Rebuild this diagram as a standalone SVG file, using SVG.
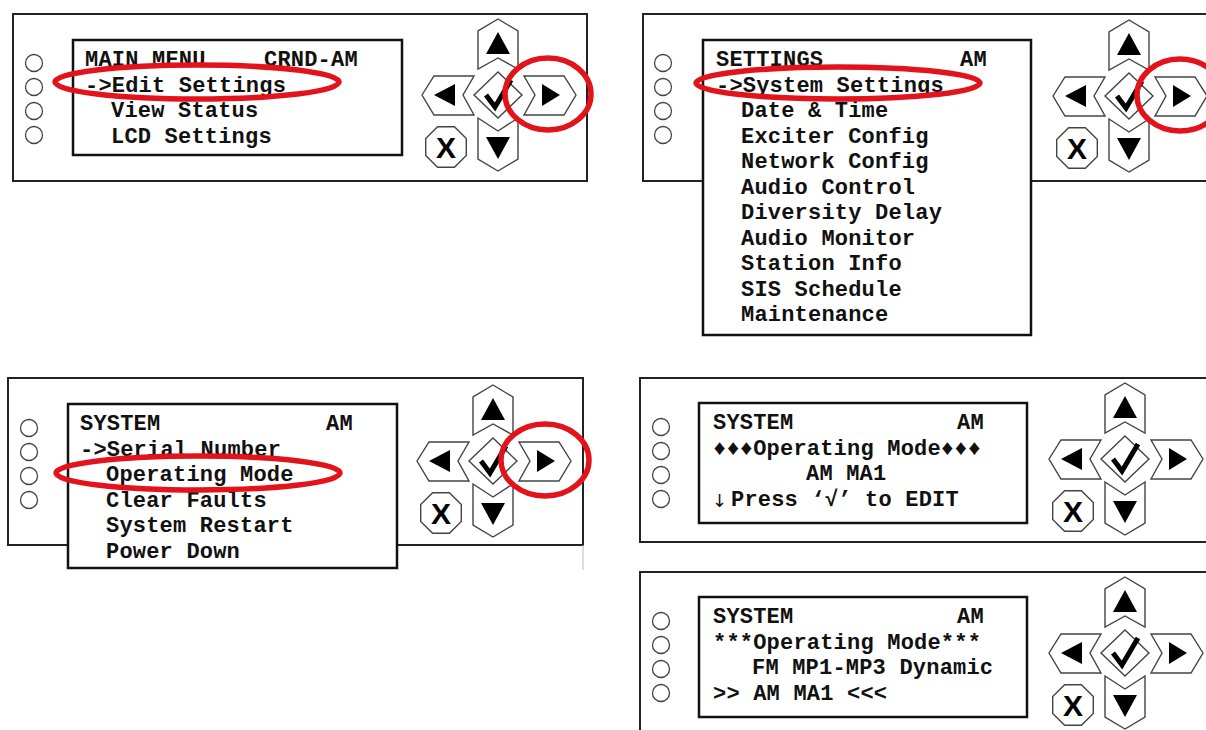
<svg xmlns="http://www.w3.org/2000/svg" width="1206" height="730" viewBox="0 0 1206 730">
<style>
.panel{fill:#fff;stroke:#222;stroke-width:2}
.screen{fill:#fff;stroke:#111;stroke-width:2.5}
.led{fill:#fff;stroke:#444;stroke-width:1.3}
.btn{fill:#fff;stroke:#444;stroke-width:1.4;stroke-linejoin:miter}
.tri{fill:#000}
.lcd{font-family:"Courier New","Liberation Mono","DejaVu Sans Mono",monospace;font-weight:bold;font-size:22px;fill:#111;letter-spacing:0.2px}
.hl{fill:none;stroke:#e3131b;stroke-width:5.5}
.xk{font-family:"Liberation Sans","DejaVu Sans",sans-serif;font-weight:bold;font-size:30px;fill:#000}
</style>
<defs>
<g id="keypad">
<polygon class="btn" points="0,-76 20,-64 20,-26 0,-37 -20,-26 -20,-64"/>
<polygon class="tri" points="0,-63 12,-41 -12,-41"/>
<polygon class="btn" points="-20,23 0,36 20,23 20,64 0,76 -20,64"/>
<polygon class="tri" points="-12,42 12,42 0,64"/>
<polygon class="btn" points="-76,0 -64,-19 -24,-19 -35,0 -24,20 -64,20"/>
<polygon class="tri" points="-64,0 -43,-11 -43,11"/>
<polygon class="btn" points="78,0 66,-19 26,-19 37,0 26,20 66,20"/>
<polygon class="tri" points="62,0 44,-11 44,11"/>
<polygon class="btn" points="0,-23 24,0 0,23 -24,0"/>
<path d="M-12,0 L-3,12 L13,-15" fill="none" stroke="#000" stroke-width="5"/>
<polygon class="btn" points="-60.4,31.7 -43.6,31.7 -31.7,43.6 -31.7,60.4 -43.6,72.3 -60.4,72.3 -72.3,60.4 -72.3,43.6"/>
<text class="xk" x="-52" y="62.5" text-anchor="middle">X</text>
</g>
<g id="leds">
<circle class="led" cx="0" cy="0" r="8.5"/>
<circle class="led" cx="0" cy="24" r="8.5"/>
<circle class="led" cx="0" cy="48" r="8.5"/>
<circle class="led" cx="0" cy="72" r="8.5"/>
</g>
</defs>
<rect width="1206" height="730" fill="#fff"/>

<g id="panel-main-menu">
<rect class="panel" x="13" y="14" width="574" height="167"/>
<use href="#leds" x="34" y="63"/>
<rect class="screen" x="73" y="40" width="329" height="115"/>
<text class="lcd" x="85" y="66">MAIN MENU</text>
<text class="lcd" x="264" y="66">CRND-AM</text>
<text class="lcd" x="85" y="92">-&gt;Edit Settings</text>
<text class="lcd" x="111" y="117">View Status</text>
<text class="lcd" x="111" y="143">LCD Settings</text>
<use href="#keypad" x="498" y="95"/>
<ellipse class="hl" cx="197" cy="82" rx="142" ry="17"/>
<ellipse class="hl" cx="548" cy="94" rx="43" ry="36"/>
</g>

<g id="panel-settings">
<rect class="panel" x="643" y="14" width="600" height="167"/>
<use href="#leds" x="663" y="63"/>
<rect class="screen" x="703" y="40" width="328" height="295"/>
<text class="lcd" x="716" y="66">SETTINGS</text>
<text class="lcd" x="960" y="66">AM</text>
<text class="lcd" x="716" y="92">-&gt;System Settings</text>
<text class="lcd" x="741" y="117">Date &amp; Time</text>
<text class="lcd" x="741" y="143">Exciter Config</text>
<text class="lcd" x="741" y="168">Network Config</text>
<text class="lcd" x="741" y="194">Audio Control</text>
<text class="lcd" x="741" y="219">Diversity Delay</text>
<text class="lcd" x="741" y="245">Audio Monitor</text>
<text class="lcd" x="741" y="270">Station Info</text>
<text class="lcd" x="741" y="296">SIS Schedule</text>
<text class="lcd" x="741" y="321">Maintenance</text>
<use href="#keypad" x="1129" y="96"/>
<ellipse class="hl" cx="838" cy="83" rx="142" ry="16"/>
<ellipse class="hl" cx="1180" cy="95" rx="43" ry="36"/>
</g>

<g id="panel-system">
<rect class="panel" x="8" y="378" width="575" height="167"/>
<line x1="583" y1="545" x2="583" y2="570" stroke="#bbb" stroke-width="1"/>
<use href="#leds" x="29" y="428"/>
<rect class="screen" x="68" y="404" width="329" height="164"/>
<text class="lcd" x="80" y="430">SYSTEM</text>
<text class="lcd" x="326" y="430">AM</text>
<text class="lcd" x="80" y="456">-&gt;Serial Number</text>
<text class="lcd" x="106" y="481">Operating Mode</text>
<text class="lcd" x="106" y="507">Clear Faults</text>
<text class="lcd" x="106" y="532">System Restart</text>
<text class="lcd" x="106" y="558">Power Down</text>
<use href="#keypad" x="493" y="461"/>
<ellipse class="hl" cx="198" cy="473" rx="142" ry="17"/>
<ellipse class="hl" cx="545" cy="460" rx="44" ry="36"/>
</g>

<g id="panel-operating-mode">
<rect class="panel" x="640" y="378" width="600" height="164"/>
<use href="#leds" x="661" y="427"/>
<rect class="screen" x="699" y="403" width="328" height="120"/>
<text class="lcd" x="713" y="429">SYSTEM</text>
<text class="lcd" x="957" y="429">AM</text>
<text class="lcd" x="713" y="455">♦♦♦Operating Mode♦♦♦</text>
<text class="lcd" x="806" y="480">AM MA1</text>
<text x="712" y="507" font-family="'DejaVu Sans','Liberation Sans',sans-serif" font-size="18" fill="#111">↓</text>
<text class="lcd" x="731" y="506">Press ‘√’ to EDIT</text>
<use href="#keypad" x="1125" y="459"/>
</g>

<g id="panel-operating-mode-edit">
<rect class="panel" x="640" y="572" width="600" height="180"/>
<use href="#leds" x="661" y="621"/>
<rect class="screen" x="699" y="597" width="328" height="120"/>
<text class="lcd" x="713" y="623">SYSTEM</text>
<text class="lcd" x="957" y="623">AM</text>
<text class="lcd" x="713" y="649">***Operating Mode***</text>
<text class="lcd" x="752" y="674">FM MP1-MP3 Dynamic</text>
<text class="lcd" x="713" y="700">&gt;&gt; AM MA1 &lt;&lt;&lt;</text>
<use href="#keypad" x="1125" y="653"/>
</g>
</svg>
